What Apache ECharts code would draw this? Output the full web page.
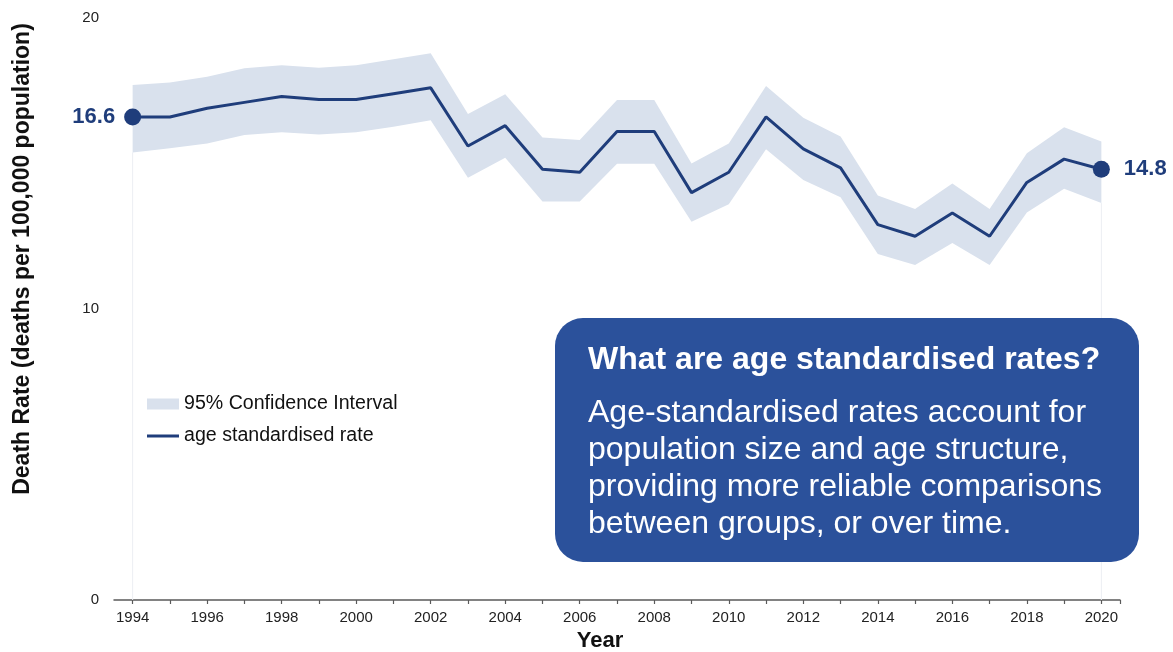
<!DOCTYPE html>
<html>
<head>
<meta charset="utf-8">
<script src="https://cdn.jsdelivr.net/npm/echarts@6/dist/echarts.min.js"></script>
<style>
html,body{margin:0;padding:0;background:#fff;}
#chart{width:1173px;height:652px;}
</style>
</head>
<body>
<div id="chart"></div>
<script>
// ---- data ----
const years = [1994,1995,1996,1997,1998,1999,2000,2001,2002,2003,2004,2005,2006,2007,2008,2009,2010,2011,2012,2013,2014,2015,2016,2017,2018,2019,2020];
const rate  = [16.6,16.6,16.9,17.1,17.3,17.2,17.2,17.4,17.6,15.6,16.3,14.8,14.7,16.1,16.1,14.0,14.7,16.6,15.5,14.85,12.9,12.5,13.3,12.5,14.35,15.15,14.8];
const upper = [17.7,17.78,17.98,18.27,18.38,18.29,18.38,18.58,18.79,16.7,17.38,15.89,15.81,17.18,17.18,15.0,15.69,17.66,16.57,15.93,13.9,13.44,14.31,13.44,15.35,16.25,15.76];
const lower = [15.38,15.52,15.69,15.98,16.07,16.0,16.07,16.26,16.49,14.51,15.2,13.69,13.69,14.99,14.99,13.0,13.6,15.49,14.43,13.84,11.89,11.51,12.27,11.51,13.32,14.13,13.64];
const labelYears = [1994,1996,1998,2000,2002,2004,2006,2008,2010,2012,2014,2016,2018,2020];
const yTicks = [0,10,20];

const NAVY = '#1f3d7b';
const BAND = '#d9e1ed';
const BOX = '#2b519b';
const FONT = "'Liberation Sans', Arial, sans-serif";

const xMin = years[0] - 0.5, xMax = years[years.length - 1] + 0.5;
const last = years.length - 1;

const chart = echarts.init(document.getElementById('chart'), null, {renderer: 'canvas'});
chart.setOption({
  animation: false,
  backgroundColor: '#fff',
  textStyle: {fontFamily: FONT},
  grid: {left: 114, right: 53, top: 18, bottom: 52, containLabel: false},
  legend: [
    {
      data: [{name: '95% Confidence Interval', icon: 'rect'}],
      left: 142, top: 389, itemWidth: 32, itemHeight: 11,
      textStyle: {fontSize: 19.6, color: '#111', fontFamily: FONT},
      selectedMode: false
    },
    {
      data: [{name: 'age standardised rate', icon: 'rect'}],
      left: 142, top: 421, itemWidth: 32, itemHeight: 3,
      textStyle: {fontSize: 19.6, color: '#111', fontFamily: FONT},
      selectedMode: false
    }
  ],
  xAxis: {
    type: 'value', min: xMin, max: xMax,
    axisLine: {show: true, onZero: false, lineStyle: {color: '#5a5a5a', width: 1.5}},
    axisTick: {show: true, length: 4, lineStyle: {color: '#5a5a5a', width: 1.2}, customValues: years.concat([xMax])},
    axisLabel: {customValues: labelYears, formatter: v => String(v), fontSize: 15, color: '#222', margin: 10, fontFamily: FONT},
    splitLine: {show: false}
  },
  yAxis: {
    type: 'value', min: yTicks[0], max: yTicks[yTicks.length - 1], interval: 10,
    axisLine: {show: false}, axisTick: {show: false},
    axisLabel: {fontSize: 15, color: '#222', margin: 15, fontFamily: FONT},
    splitLine: {show: false}
  },
  series: [
    {
      name: '95% Confidence Interval', type: 'custom',
      itemStyle: {color: BAND}, silent: true, z: 2,
      data: years.map((y, i) => [y, lower[i], upper[i]]),
      encode: {x: 0, y: [1, 2]},
      renderItem: function (params, api) {
        if (params.dataIndex !== 0) return null;
        const pts = [];
        for (let i = 0; i < years.length; i++) pts.push(api.coord([years[i], upper[i]]));
        for (let i = years.length - 1; i >= 0; i--) pts.push(api.coord([years[i], lower[i]]));
        const base0 = api.coord([years[0], 0]);
        const lo0 = api.coord([years[0], lower[0]]);
        const baseN = api.coord([years[last], 0]);
        const loN = api.coord([years[last], lower[last]]);
        return {
          type: 'group',
          children: [
            {type: 'line', shape: {x1: base0[0], y1: base0[1], x2: lo0[0], y2: lo0[1]}, style: {stroke: '#eceef3', lineWidth: 1}},
            {type: 'line', shape: {x1: baseN[0], y1: baseN[1], x2: loN[0], y2: loN[1]}, style: {stroke: '#eceef3', lineWidth: 1}},
            {type: 'polygon', shape: {points: pts}, style: {fill: BAND}}
          ]
        };
      }
    },
    {
      name: 'age standardised rate', type: 'line',
      data: years.map((y, i) => [y, rate[i]]),
      symbol: 'none', lineStyle: {color: NAVY, width: 3},
      itemStyle: {color: NAVY}, z: 5
    },
    {
      name: 'ends', type: 'scatter', z: 6,
      symbol: 'circle', symbolSize: 17,
      itemStyle: {color: NAVY, opacity: 1},
      data: [
        {value: [years[0], rate[0]], label: {show: true, position: 'left', distance: 9}},
        {value: [years[last], rate[last]], label: {show: true, position: 'right', distance: 14}}
      ],
      label: {formatter: p => p.value[1].toFixed(1), fontSize: 22, fontWeight: 'bold', color: NAVY, fontFamily: FONT}
    }
  ],
  graphic: [
    {
      type: 'text', x: 23, y: 259, rotation: Math.PI / 2,
      style: {text: 'Death Rate (deaths per 100,000 population)', font: "bold 23px 'Liberation Sans', Arial, sans-serif", fill: '#111', textAlign: 'center', textVerticalAlign: 'middle'}
    },
    {
      type: 'text', x: 600, y: 641,
      style: {text: 'Year', font: "bold 22px 'Liberation Sans', Arial, sans-serif", fill: '#111', textAlign: 'center', textVerticalAlign: 'middle'}
    },
    {
      type: 'rect', shape: {x: 555, y: 318, width: 584, height: 244, r: 28},
      style: {fill: BOX}, z: 10
    },
    {
      type: 'text', x: 588, y: 360, z: 11,
      style: {text: 'What are age standardised rates?', font: "bold 32px 'Liberation Sans', Arial, sans-serif", fill: '#fff', textVerticalAlign: 'middle'}
    },
    {
      type: 'text', x: 588, y: 395, z: 11,
      style: {text: 'Age-standardised rates account for\npopulation size and age structure,\nproviding more reliable comparisons\nbetween groups, or over time.', font: "32px 'Liberation Sans', Arial, sans-serif", lineHeight: 37, fill: '#fff', textVerticalAlign: 'top'}
    }
  ]
});
</script>
</body>
</html>
